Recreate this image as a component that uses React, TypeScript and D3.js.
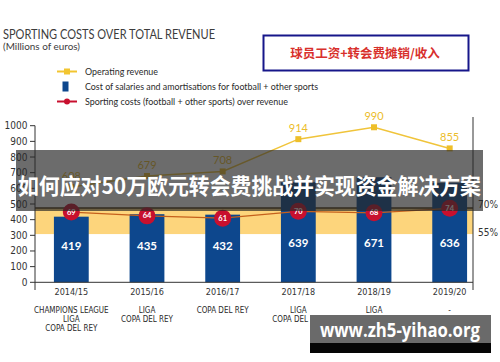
import React, { useEffect, useRef } from 'react';
import * as d3 from 'd3';

const seasons = ['2014/15', '2015/16', '2016/17', '2017/18', '2018/19', '2019/20'];
const revenue = [608, 679, 708, 914, 990, 855];
const salaries = [419, 435, 432, 639, 671, 636];
const sportingPct = [69, 64, 61, 70, 68, 74];
const trophies = [
  ['CHAMPIONS LEAGUE', 'LIGA', 'COPA DEL REY'],
  ['LIGA', 'COPA DEL REY'],
  ['COPA DEL REY'],
  ['LIGA', 'COPA DEL REY'],
  ['LIGA'],
  ['-'],
];
const yTicks = [0, 100, 200, 300, 400, 500, 600, 700, 800, 900, 1000];
const pctTicks = [55, 70];
const legendItems = [
  'Operating revenue',
  'Cost of salaries and amortisations for football + other sports',
  'Sporting costs (football + other sports) over revenue',
];

const NARROW = "'Liberation Sans Narrow', 'DejaVu Sans Condensed', sans-serif";
const SANS = "Lato, 'Open Sans', sans-serif";
const CJK = "'Noto Sans CJK SC', sans-serif";

export default function App() {
  const svgRef = useRef<SVGSVGElement>(null);

  useEffect(() => {
    if (!svgRef.current) return;
    const width = 500;
    const height = 362;
    const left = 35;
    const right = 473;

    const svg = d3.select(svgRef.current);
    svg.selectAll('*').remove();

    svg.append('rect').attr('width', width).attr('height', height).attr('fill', '#ffffff');

    const x = d3.scaleBand<string>()
      .domain(seasons)
      .range([35, 486])
      .paddingInner(0.54)
      .paddingOuter(0.25);
    const y = d3.scaleLinear().domain([0, 1000]).range([282.3, 125.7]);
    // percent band (55%-70%) on the right side
    const bandY = d3.scaleLinear().domain([55, 70]).range([y(308), y(474)]);
    // percentage markers sit on a flatter scale
    const pctY = d3.scaleLinear().domain([55, 75]).range([y(381), y(477)]);
    const cx = (s: string) => x(s)! + x.bandwidth() / 2;

    // Title
    svg.append('text')
      .attr('x', 3).attr('y', 39)
      .attr('font-family', SANS).attr('font-size', 13.5).attr('fill', '#3c3c3c')
      .attr('textLength', 212).attr('lengthAdjust', 'spacingAndGlyphs')
      .text('SPORTING COSTS OVER TOTAL REVENUE');
    svg.append('text')
      .attr('x', 3).attr('y', 50)
      .attr('font-family', SANS).attr('font-size', 9.5).attr('fill', '#3c3c3c')
      .attr('textLength', 77).attr('lengthAdjust', 'spacingAndGlyphs')
      .text('(Millions of euros)');

    // Chinese box
    svg.append('rect')
      .attr('x', 263.5).attr('y', 35.5).attr('width', 205).attr('height', 35)
      .attr('fill', '#ffffff').attr('stroke', '#16168a').attr('stroke-width', 2);
    svg.append('text')
      .attr('x', 365).attr('y', 57.5).attr('text-anchor', 'middle')
      .attr('font-family', CJK).attr('font-size', 12.5).attr('font-weight', 'bold')
      .attr('fill', '#d8302c')
      .text('球员工资+转会费摊销/收入');

    // Legend
    const legendWidths = [73, 233, 203];
    const lg = svg.append('g');
    legendItems.forEach((label, i) => {
      const ly = 71.5 + i * 15;
      if (i === 0) {
        lg.append('line').attr('x1', 57).attr('x2', 77).attr('y1', ly).attr('y2', ly)
          .attr('stroke', '#f2c530').attr('stroke-width', 2);
        lg.append('rect').attr('x', 64).attr('y', ly - 3).attr('width', 6).attr('height', 6).attr('fill', '#f2c530');
      } else if (i === 1) {
        lg.append('rect').attr('x', 62.5).attr('y', ly - 5).attr('width', 6).attr('height', 10).attr('fill', '#0d478d');
      } else {
        lg.append('line').attr('x1', 57).attr('x2', 77).attr('y1', ly).attr('y2', ly)
          .attr('stroke', '#c8102e').attr('stroke-width', 2);
        lg.append('circle').attr('cx', 67).attr('cy', ly).attr('r', 3).attr('fill', '#c8102e');
      }
      lg.append('text')
        .attr('x', 85).attr('y', ly + 3.5)
        .attr('font-family', SANS).attr('font-size', 10).attr('fill', '#2a2a2a')
        .attr('textLength', legendWidths[i]).attr('lengthAdjust', 'spacingAndGlyphs')
        .text(label);
    });

    // Percent band
    svg.append('rect')
      .attr('x', left).attr('y', bandY(70))
      .attr('width', right - left).attr('height', bandY(55) - bandY(70))
      .attr('fill', '#fdd57c');
    svg.append('line')
      .attr('x1', left).attr('x2', right).attr('y1', bandY(70)).attr('y2', bandY(70))
      .attr('stroke', '#4a3516').attr('stroke-width', 1.5);
    svg.append('g').selectAll('text').data(pctTicks).enter().append('text')
      .attr('x', 478).attr('y', d => bandY(d) + (d === 70 ? 0 : 1.5))
      .attr('font-family', NARROW).attr('font-size', 10).attr('fill', '#333')
      .text(d => `${d}%`);

    // Bars
    svg.append('g').selectAll('rect').data(seasons).enter().append('rect')
      .attr('x', d => x(d)!)
      .attr('y', (d, i) => y(salaries[i]))
      .attr('width', x.bandwidth())
      .attr('height', (d, i) => y(0) - y(salaries[i]))
      .attr('fill', '#0d478d');
    svg.append('g').selectAll('text').data(seasons).enter().append('text')
      .attr('x', d => cx(d))
      .attr('y', (d, i) => y(salaries[i] > 600 ? 228 : 205))
      .attr('text-anchor', 'middle')
      .attr('font-family', SANS).attr('font-size', 11.5).attr('font-weight', 'bold')
      .attr('fill', '#ffffff')
      .text((d, i) => salaries[i]);

    // Axes
    const axis = svg.append('g').attr('stroke', '#333').attr('stroke-width', 1);
    axis.append('line').attr('x1', left).attr('x2', left).attr('y1', y(1000)).attr('y2', 290);
    axis.append('line').attr('x1', right).attr('x2', right).attr('y1', 117).attr('y2', 290);
    axis.append('line').attr('x1', left).attr('x2', right).attr('y1', y(0)).attr('y2', y(0));
    svg.append('g').selectAll('line').data(yTicks).enter().append('line')
      .attr('x1', left - 5).attr('x2', left).attr('y1', d => y(d)).attr('y2', d => y(d))
      .attr('stroke', '#333');
    svg.append('g').selectAll('text').data(yTicks).enter().append('text')
      .attr('x', 27.5).attr('y', d => y(d) + 3.5).attr('text-anchor', 'end')
      .attr('font-family', NARROW).attr('font-size', 10).attr('fill', '#333')
      .text(d => d);

    // X labels
    svg.append('g').selectAll('text').data(seasons).enter().append('text')
      .attr('x', d => cx(d)).attr('y', 295)
      .attr('text-anchor', 'middle')
      .attr('font-family', NARROW).attr('font-size', 9).attr('fill', '#333')
      .text(d => d);
    const tg = svg.append('g');
    seasons.forEach((s, i) => {
      trophies[i].forEach((t, j) => {
        tg.append('text')
          .attr('x', cx(s)).attr('y', 313 + j * 9.2)
          .attr('text-anchor', 'middle')
          .attr('font-family', NARROW).attr('font-size', 8).attr('fill', '#2a2a2a')
          .text(t);
      });
    });

    // Revenue line
    const revLine = d3.line<number>()
      .x((d, i) => cx(seasons[i]))
      .y(d => y(d));
    svg.append('path').datum(revenue)
      .attr('d', revLine).attr('fill', 'none')
      .attr('stroke', '#f0c43a').attr('stroke-width', 1.5);
    svg.append('g').selectAll('rect').data(revenue).enter().append('rect')
      .attr('x', (d, i) => cx(seasons[i]) - 3).attr('y', d => y(d) - 3)
      .attr('width', 6).attr('height', 6).attr('fill', '#eebf2a');
    svg.append('g').selectAll('text').data(revenue).enter().append('text')
      .attr('x', (d, i) => cx(seasons[i])).attr('y', d => y(d) - 7)
      .attr('text-anchor', 'middle')
      .attr('font-family', SANS).attr('font-size', 11).attr('fill', '#ecbd2a')
      .text(d => d);

    // Sporting cost percentage line
    const pctLine = d3.line<number>()
      .x((d, i) => cx(seasons[i]))
      .y(d => pctY(d));
    svg.append('path').datum(sportingPct)
      .attr('d', pctLine).attr('fill', 'none')
      .attr('stroke', '#c5601c').attr('stroke-width', 1.3);
    svg.append('g').selectAll('circle').data(sportingPct).enter().append('circle')
      .attr('cx', (d, i) => cx(seasons[i])).attr('cy', d => pctY(d))
      .attr('r', 8.5).attr('fill', '#c8102e');
    svg.append('g').selectAll('text').data(sportingPct).enter().append('text')
      .attr('x', (d, i) => cx(seasons[i])).attr('y', d => pctY(d) + 2.5)
      .attr('text-anchor', 'middle')
      .attr('font-family', SANS).attr('font-size', 7.5).attr('font-weight', 'bold')
      .attr('fill', '#ffffff')
      .text(d => d);

    // Banner overlay
    svg.append('rect')
      .attr('x', 16).attr('y', 150).attr('width', 467).attr('height', 61)
      .attr('fill', '#262626').attr('opacity', 0.68);
    svg.append('text')
      .attr('x', 18).attr('y', 194)
      .attr('font-family', CJK).attr('font-size', 22).attr('font-weight', 'bold')
      .attr('fill', '#ffffff')
      .attr('textLength', 463).attr('lengthAdjust', 'spacingAndGlyphs')
      .text('如何应对50万欧元转会费挑战并实现资金解决方案');

    // Watermark
    svg.append('rect')
      .attr('x', 310).attr('y', 315).attr('width', 181).attr('height', 29)
      .attr('fill', '#6a6a6a');
    svg.append('rect')
      .attr('x', 310).attr('y', 343).attr('width', 181).attr('height', 10)
      .attr('fill', '#050505');
    svg.append('text')
      .attr('x', 400).attr('y', 337).attr('text-anchor', 'middle')
      .attr('font-family', "'Open Sans', sans-serif").attr('font-size', 19).attr('font-weight', 'bold')
      .attr('fill', '#ffffff')
      .attr('textLength', 160).attr('lengthAdjust', 'spacingAndGlyphs')
      .text('www.zh5-yihao.org');
  }, []);

  return (
    <svg
      ref={svgRef}
      width={500}
      height={362}
      viewBox="0 0 500 362"
      style={{ position: 'absolute', left: 0, top: 0 }}
    />
  );
}
